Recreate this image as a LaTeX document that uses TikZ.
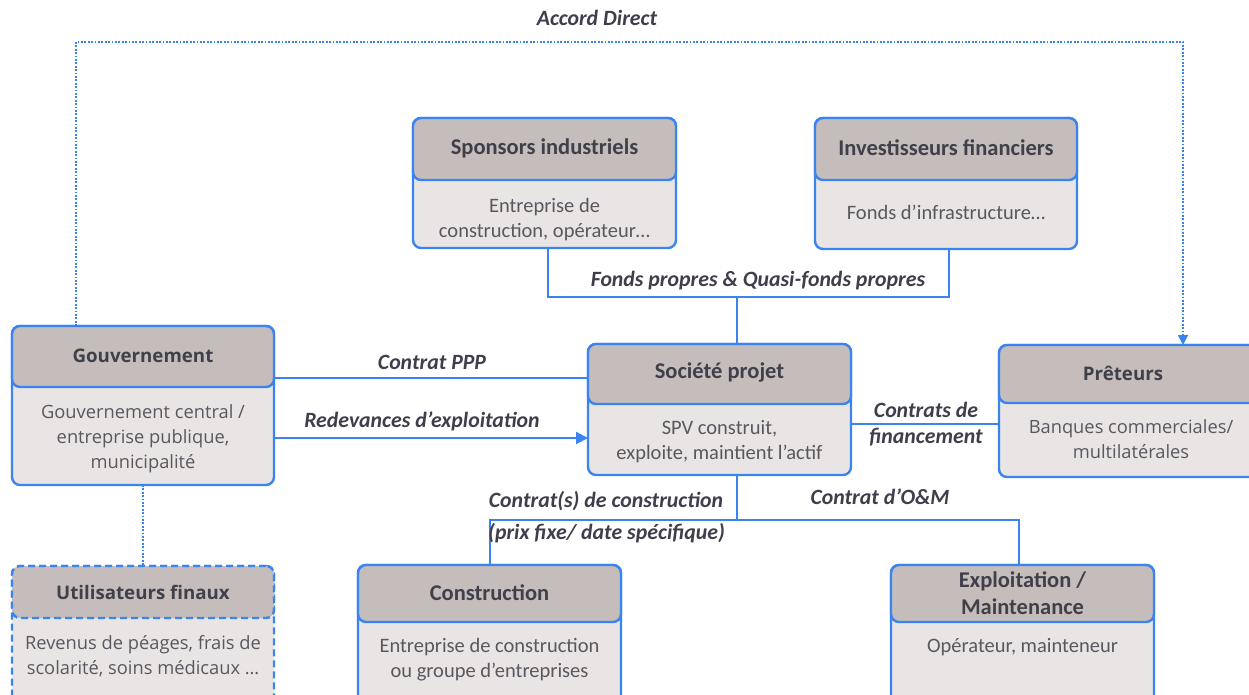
\documentclass[tikz,border=0pt]{standalone}
\usepackage{fontspec}
\setmainfont{Carlito}
\newfontfamily\uifont{Open Sans}
\usetikzlibrary{arrows.meta}
\definecolor{edge}{RGB}{58,132,240}
\definecolor{headfill}{RGB}{197,189,187}
\definecolor{bodyfill}{RGB}{232,229,228}
\definecolor{titlecol}{RGB}{64,64,74}
\definecolor{textcol}{RGB}{88,88,94}
\definecolor{labelcol}{RGB}{62,62,76}
\tikzset{
  frame/.style={draw=edge, line width=2.4pt, fill=bodyfill, rounded corners=8pt,
    inner sep=0pt, outer sep=0pt},
  headbox/.style={frame, fill=headfill},
  title/.style={text=titlecol, align=center, inner sep=0pt,
    font=\fontsize{22.5}{27}\selectfont\bfseries},
  bodytext/.style={text=textcol, align=center, inner sep=0pt,
    font=\fontsize{20.5}{25}\selectfont},
  uititle/.style={text=titlecol, align=center, inner sep=0pt,
    font=\uifont\fontsize{18.7}{24}\selectfont\bfseries},
  uitext/.style={text=textcol, align=center, inner sep=0pt,
    font=\uifont\fontsize{18.3}{25}\selectfont},
  flowlabel/.style={text=labelcol, inner sep=0pt,
    font=\fontsize{21.8}{26}\selectfont\bfseries\itshape},
  link/.style={draw=edge, line width=2.2pt},
  dotlink/.style={draw=edge, line width=1.8pt, dash pattern=on 1.8pt off 1.6pt},
}
\begin{document}
\begin{tikzpicture}[x=1pt,y=-1pt]
\useasboundingbox (0,0) rectangle (1249,695);
\clip (0,0) rectangle (1249,695);

% Gouvernement
\node[frame, minimum width=262, minimum height=159] (gov) at (143,405.5) {};
\node[headbox, minimum width=262, minimum height=61] (govh) at (143,356.5) {};
\node[uititle] at (143,356) {Gouvernement};
\node[uitext] (govt) at (143,439) {Gouvernement central /\\entreprise publique,\\municipalité};

% Utilisateurs finaux
\node[frame, dashed, dash pattern=on 7pt off 4pt, minimum width=262, minimum height=150] (users) at (143,641) {};
\node[headbox, dashed, dash pattern=on 7pt off 4pt, minimum width=262, minimum height=52] (usersh) at (143,592) {};
\node[uititle] at (143,592) {Utilisateurs finaux};
\node[uitext] at (143,656) {Revenus de péages, frais de\\scolarité, soins médicaux …};

% Sponsors industriels
\node[frame, minimum width=263, minimum height=130] (spons) at (544.5,183) {};
\node[headbox, minimum width=263, minimum height=62] (sponsh) at (544.5,149) {};
\node[title] at (544.5,148) {Sponsors industriels};
\node[bodytext] at (544.5,220) {Entreprise de\\construction, opérateur…};

% Investisseurs financiers
\node[frame, minimum width=262, minimum height=131] (inv) at (946,183.5) {};
\node[headbox, minimum width=262, minimum height=62] (invh) at (946,149) {};
\node[title] at (946,148) {Investisseurs financiers};
\node[bodytext] at (946,212) {Fonds d’infrastructure…};

% Société projet
\node[frame, minimum width=263, minimum height=131] (spv) at (719.5,409.5) {};
\node[headbox, minimum width=263, minimum height=60] (spvh) at (719.5,374) {};
\node[title] at (719.5,373) {Société projet};
\node[bodytext] at (719.5,442) {SPV construit,\\exploite, maintient l’actif};

% Prêteurs
\node[frame, minimum width=262, minimum height=132] (lend) at (1130,411) {};
\node[headbox, minimum width=262, minimum height=58] (lendh) at (1130,374) {};
\node[uititle] at (1123,373) {Prêteurs};
\node[uitext] at (1131,439) {Banques commerciales/\\multilatérales};

% Construction
\node[frame, minimum width=263, minimum height=150] (cons) at (489.5,640) {};
\node[headbox, minimum width=263, minimum height=57] (consh) at (489.5,593.5) {};
\node[title] at (489.5,593) {Construction};
\node[bodytext] at (489.5,659.5) {Entreprise de construction\\ou groupe d’entreprises};

% Exploitation / Maintenance
\node[frame, minimum width=263, minimum height=150] (om) at (1022.5,640) {};
\node[headbox, minimum width=263, minimum height=57] (omh) at (1022.5,593.5) {};
\node[title] at (1022.5,593.5) {Exploitation /\\Maintenance};
\node[bodytext] at (1022.5,647) {Opérateur, mainteneur};

% Equity from sponsors and investors
\coordinate (eqL) at (548,297);
\coordinate (eqR) at (949,297);
\coordinate (eqM) at (737,297);
\draw[link] (spons.south -| eqL) -- (eqL) -- (eqR) -- (inv.south -| eqR);
\draw[link] (eqM) -- (spvh.north -| eqM);
\node[flowlabel] at (758,281) {Fonds propres \& Quasi-fonds propres};

% PPP contract and operating fees
\draw[link] (govh.east |- 0,378) -- (spvh.west |- 0,378);
\node[flowlabel] at (432,362) {Contrat PPP};
\draw[link, -{Triangle[length=12pt,width=12pt]}] (gov.east |- 0,438) -- (spv.west |- 0,438);
\node[flowlabel] at (422,421) {Redevances d’exploitation};

% Financing agreements
\draw[link] (spv.east |- 0,424) -- (lend.west |- 0,424);
\node[flowlabel, align=center] at (926,424) {Contrats de\\financement};

% Construction and O&M contracts
\coordinate (ctM) at (737,520);
\coordinate (ctL) at (490,520);
\coordinate (ctR) at (1019,520);
\draw[link] (spv.south -| ctM) -- (ctM);
\draw[link] (consh.north -| ctL) -- (ctL) -- (ctR) -- (omh.north -| ctR);
\node[flowlabel] at (606,501) {Contrat(s) de construction};
\node[flowlabel, anchor=west] at (488,533) {(prix fixe/ date spécifique)};
\node[flowlabel] at (880,497) {Contrat d’O\&M};

% Direct agreement
\coordinate (adL) at (76,42);
\coordinate (adR) at (1183,42);
\draw[dotlink, -{Triangle[length=10pt,width=10pt]}] (govh.north -| adL) -- (adL) -- (adR) -- (lendh.north -| adR);
\node[flowlabel] at (597,18) {Accord Direct};

% Government to end users
\draw[dotlink] (gov.south -| 143,0) -- (usersh.north);
\end{tikzpicture}
\end{document}
